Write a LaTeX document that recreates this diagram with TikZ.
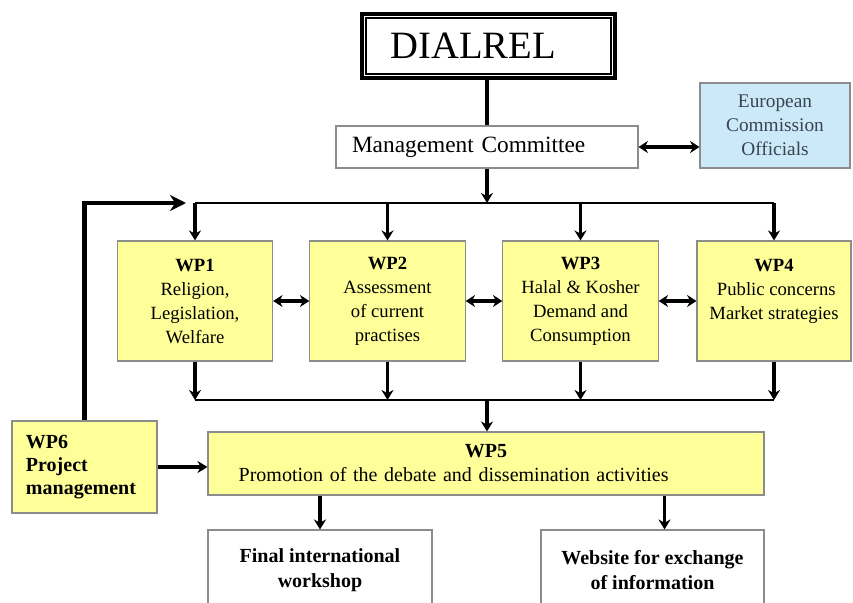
\documentclass[tikz,border=0pt]{standalone}
\usepackage{fontspec}
\usetikzlibrary{arrows.meta}
\setmainfont{Liberation Serif}
\definecolor{wpyellow}{HTML}{FFFF99}
\definecolor{ecblue}{HTML}{CCE9F9}
\definecolor{boxgray}{HTML}{8C8C8C}
\definecolor{ectext}{HTML}{3A4450}
\begin{document}
\begin{tikzpicture}[>={Stealth[length=7.5pt,width=9pt]},x=0.75pt,y=-0.75pt,
	wp/.style={draw=boxgray,fill=wpyellow,line width=0.8pt,minimum width=116.5pt,minimum height=90pt,align=center,font=\fontsize{14}{18}\selectfont},
	plain/.style={draw=boxgray,fill=white,line width=0.8pt},
	arr/.style={->,line width=2.8pt},
	dbl/.style={{Stealth[length=7pt,width=9pt]}-{Stealth[length=7pt,width=9pt]},line width=2.6pt},
	bus/.style={line width=1.5pt}]
	\useasboundingbox (0,0) rectangle (853,603);
	% top of the tree
	\node[draw,line width=3pt,minimum width=189.75pt,minimum height=48pt,text width=147pt,inner xsep=21pt,align=left,font=\fontsize{29}{32}\selectfont] (dialrel) at (488.5,46) {DIALREL};
	\draw[line width=1.1pt] ([shift={(6,6)}]dialrel.north west) rectangle ([shift={(-6,-6)}]dialrel.south east);
	\node[plain,minimum width=226.5pt,minimum height=31.5pt,text width=202.5pt,inner xsep=12pt,align=left,font=\fontsize{17.5}{20}\selectfont] (mc) at (487,147) {Management Committee};
	\node[draw=boxgray,fill=ecblue,line width=0.8pt,minimum width=112.5pt,minimum height=63.75pt,align=center,text=ectext,font=\fontsize{14.5}{18}\selectfont] (eco) at (775,125.5) {European\\Commission\\Officials};
	% work packages
	\node[wp] (wp1) at (195,301) {\textbf{WP1}\\Religion,\\Legislation,\\Welfare};
	\node[wp] (wp2) at (387.5,301) {\textbf{WP2}\\Assessment\\of current\\practises};
	\node[wp] (wp3) at (580.5,301) {\textbf{WP3}\\Halal \& Kosher\\Demand and\\Consumption};
	\node[wp,minimum width=115.5pt] (wp4) at (774,301) {\textbf{WP4}\\\ Public concerns\\Market strategies\\\mbox{}};
	\node[wp,minimum width=417pt,minimum height=47.25pt,text width=371pt,inner xsep=23pt,align=left,font=\fontsize{15}{18}\selectfont] (wp5) at (486,463.5) {\makebox[\hsize]{\textbf{WP5}}\\Promotion of the debate and dissemination activities};
	\node[wp,minimum width=108.75pt,minimum height=69pt,text width=87.75pt,inner xsep=10.5pt,align=left,font=\bfseries\fontsize{15}{17.5}\selectfont] (wp6) at (84.5,467) {WP6\\Project\\management};
	\node[plain,minimum width=168pt,minimum height=60pt,align=center,font=\bfseries\fontsize{15}{18.75}\selectfont] (final) at (320,570) {Final international\\workshop};
	\node[plain,minimum width=167.25pt,minimum height=60pt,align=center,font=\bfseries\fontsize{15}{18.75}\selectfont] (website) at (652.5,570) {Website for exchange\\of information};
	% buses
	\coordinate (bustop) at (487,203);
	\coordinate (busbot) at (487,400);
	\coordinate (fbend) at (186,203);
	\draw[line width=3pt] (dialrel.south -| mc.north) -- (mc.north);
	\draw[dbl] (mc.east) -- (eco.west |- mc.east);
	\draw[arr] (mc.south) -- (bustop);
	\draw[bus] (wp1.north |- bustop) -- (wp4.north |- bustop);
	\draw[bus] (wp1.south |- busbot) -- (wp4.south |- busbot);
	\foreach \w in {wp1,wp2,wp3,wp4}{
		\draw[arr] (\w.north |- bustop) -- (\w.north);
		\draw[arr] (\w.south) -- (\w.south |- busbot);
	}
	\draw[dbl] (wp1.east) -- (wp2.west);
	\draw[dbl] (wp2.east) -- (wp3.west);
	\draw[dbl] (wp3.east) -- (wp4.west);
	\draw[arr] (busbot) -- (busbot |- wp5.north);
	\draw[-{Stealth[length=12pt,width=12pt]},line width=3.5pt] (wp6.north) |- (fbend);
	\draw[arr] (wp6.east) -- (wp6.east -| wp5.west);
	\draw[arr] (wp5.south -| final.north) -- (final.north);
	\draw[arr] ([xshift=9pt]wp5.south -| website.north) -- ([xshift=9pt]website.north);
\end{tikzpicture}
\end{document}
